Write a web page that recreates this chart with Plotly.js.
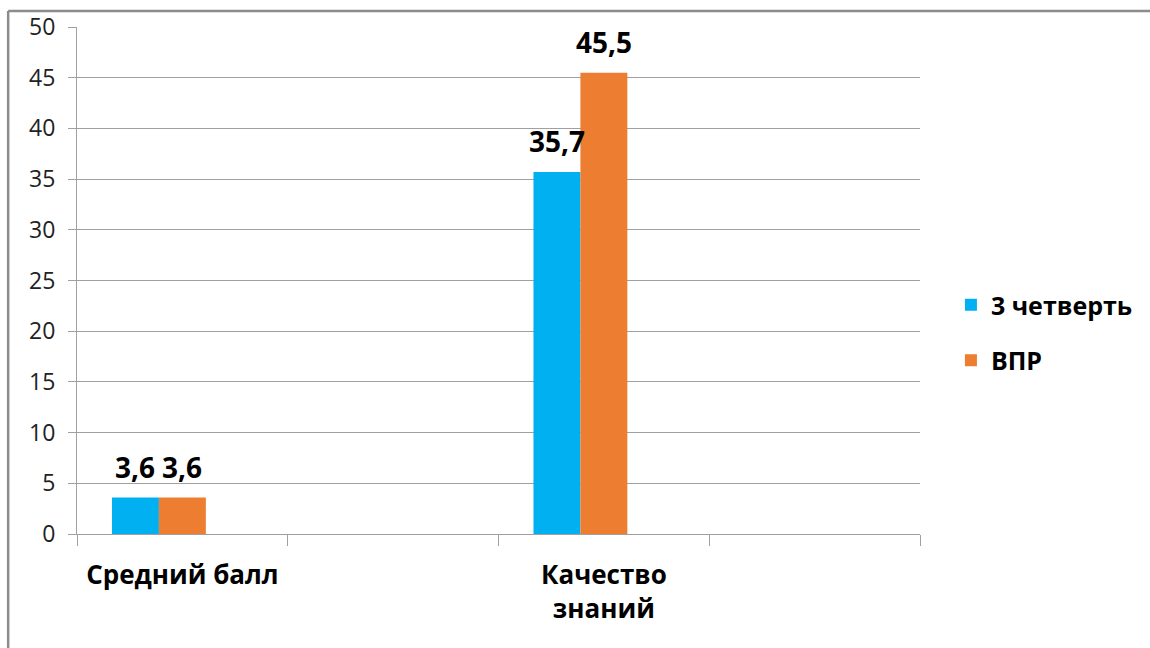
<!DOCTYPE html>
<html>
<head>
<meta charset="utf-8">
<script src="https://cdn.plot.ly/plotly-3.0.1.min.js"></script>
<style>
html,body{margin:0;padding:0;background:#ffffff;}
#chart{width:1150px;height:648px;}
</style>
</head>
<body>
<div id="chart"></div>
<script>
// ---- data ----
const categories = ["Средний балл", " ", "Качество<br>знаний", "  "];
const seriesNames = ["3 четверть", "ВПР"];
const quarter3 = [3.6, null, 35.7, null];
const vpr = [3.6, null, 45.5, null];
const emptySeries = [null, null, null, null];
const yTickVals = [0, 5, 10, 15, 20, 25, 30, 35, 40, 45, 50];

const seriesColors = ["#00B0F0", "#ED7D31"];
const FONT = "'Open Sans', 'Noto Sans', sans-serif";

const traces = [
  {
    type: "bar", name: seriesNames[0], x: categories, y: quarter3,
    marker: {color: seriesColors[0], line: {width: 0}},
    legendgroup: "a", hoverinfo: "skip"
  },
  {
    type: "bar", name: seriesNames[1], x: categories, y: vpr,
    marker: {color: seriesColors[1], line: {width: 0}},
    legendgroup: "b", hoverinfo: "skip"
  },
  {
    type: "bar", name: "", x: categories, y: emptySeries,
    marker: {color: "rgba(0,0,0,0)"}, showlegend: false, hoverinfo: "skip"
  }
];

const L = 77, R = 922, T = 27, B = 534;
const px2x = p => (p - L) / (R - L);
const px2y = p => (B - p) / (B - T);
const BARGAP = 0.332;
const nSlots = traces.length;
// width of one bar in pixels, derived from the layout's bar gap
const barPx = (R - L) / categories.length * (1 - BARGAP) / nSlots;

// data labels anchored at each bar's value
const annotations = [];
[quarter3, vpr].forEach((vals, s) => {
  vals.forEach((v, j) => {
    if (v === null) return;
    annotations.push({
      x: categories[j], y: v, xref: "x", yref: "y",
      xshift: (s - (nSlots - 1) / 2) * barPx,
      yshift: 10, yanchor: "bottom", xanchor: "center",
      showarrow: false,
      text: "<b>" + v.toFixed(1).replace(".", ",") + "</b>",
      font: {family: FONT, size: 28, color: "#000000"}
    });
  });
});

const layout = {
  width: 1150, height: 648,
  margin: {l: L, r: 1150 - R, t: T, b: 648 - B, pad: 0},
  paper_bgcolor: "#ffffff", plot_bgcolor: "#ffffff",
  separators: ", ",
  barmode: "group", bargap: BARGAP, bargroupgap: 0,
  font: {family: FONT, color: "#000000"},
  showlegend: true,
  legend: {
    x: px2x(953), xanchor: "left", y: px2y(282), yanchor: "top",
    traceorder: "grouped", tracegroupgap: 20,
    font: {family: FONT, size: 25, color: "#000000", weight: "bold"},
    itemwidth: 30, bgcolor: "rgba(0,0,0,0)"
  },
  xaxis: {
    type: "category", categoryorder: "array", categoryarray: categories,
    tickson: "boundaries", ticks: "outside", ticklen: 11, tickcolor: "#a0a0a0", tickwidth: 1,
    showline: true, linecolor: "#a0a0a0", linewidth: 1,
    showgrid: false, zeroline: false,
    tickfont: {family: FONT, size: 26, color: "#000000", weight: "bold"},
    ticklabelstandoff: 18, fixedrange: true
  },
  yaxis: {
    range: [0, 50], tickmode: "array", tickvals: yTickVals,
    ticks: "outside", ticklen: 8, tickcolor: "#a0a0a0", tickwidth: 1,
    showline: true, linecolor: "#a0a0a0", linewidth: 1,
    showgrid: true, gridcolor: "#a0a0a0", gridwidth: 1, zeroline: false,
    tickfont: {family: FONT, size: 23, color: "#222222"},
    ticklabelstandoff: 8, fixedrange: true
  },
  annotations: annotations,
  shapes: [
    {type: "line", xref: "paper", yref: "paper",
     x0: px2x(8), x1: px2x(8), y0: px2y(11), y1: px2y(700),
     line: {color: "#8c8c8c", width: 2.5}},
    {type: "line", xref: "paper", yref: "paper",
     x0: px2x(8), x1: px2x(1200), y0: px2y(11), y1: px2y(11),
     line: {color: "#8c8c8c", width: 2.5}}
  ]
};

Plotly.newPlot("chart", traces, layout, {staticPlot: true, displayModeBar: false});
</script>
</body>
</html>
